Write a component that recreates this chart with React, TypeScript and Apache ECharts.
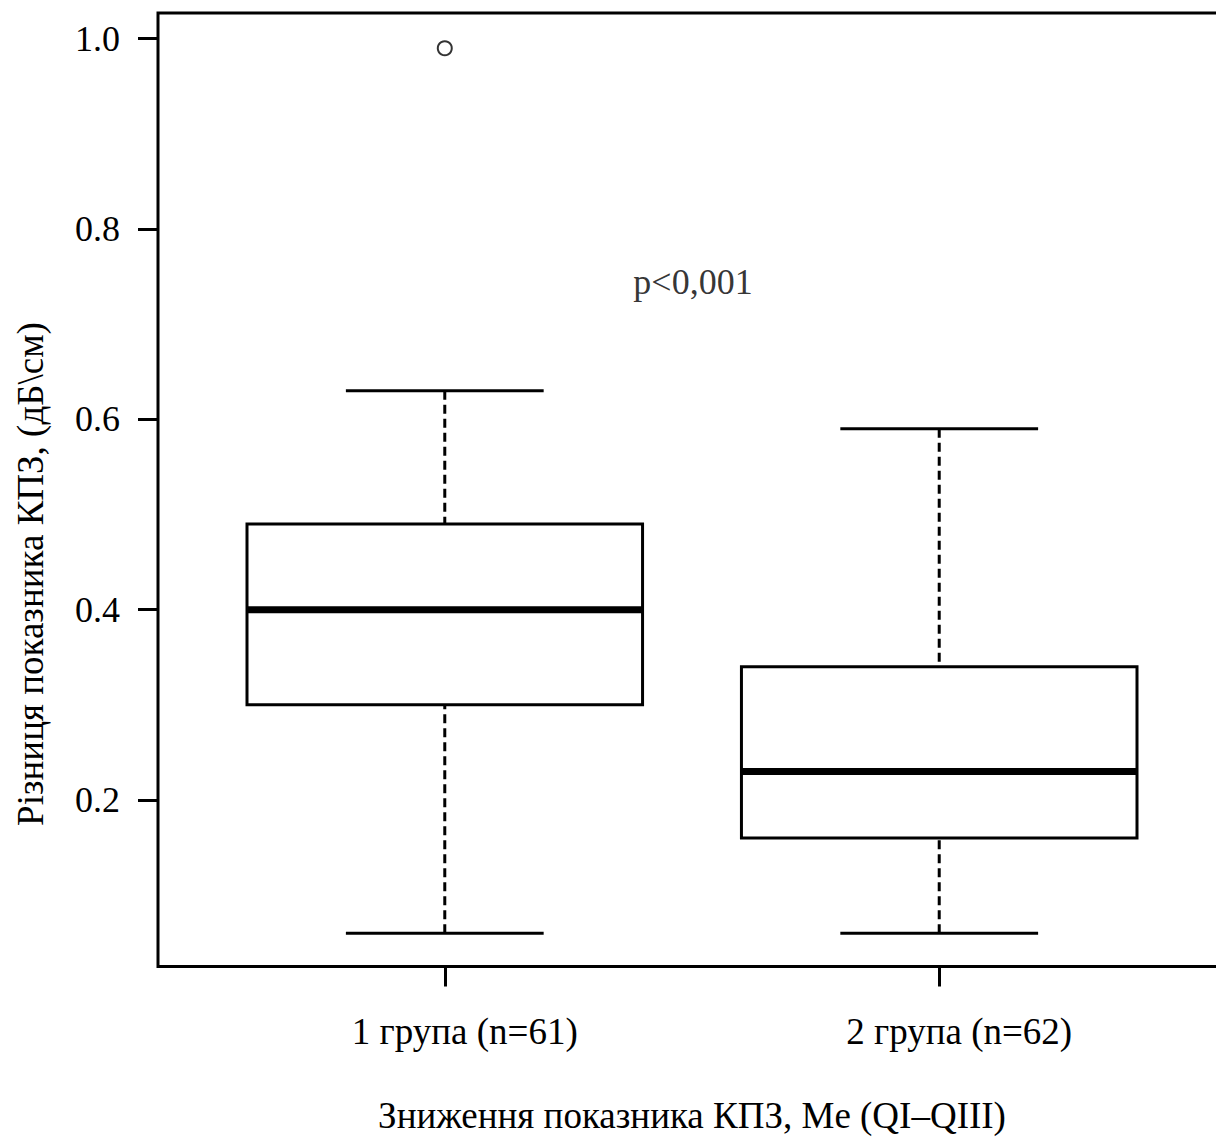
import React, { useEffect, useRef } from "react";
import * as echarts from "echarts";

const groups = ["1 група (n=61)", "2 група (n=62)"];
const groupX = [1, 2];
const lowWhisker = [0.06, 0.06];
const q1 = [0.3, 0.16];
const median = [0.4, 0.23];
const q3 = [0.49, 0.34];
const highWhisker = [0.63, 0.59];
const outliers = [[1, 0.99]];
const yTicks = [0.2, 0.4, 0.6, 0.8, 1.0];
const pText = "p<0,001";
const pPos = [1.502, 0.744];
const xTitle = "Зниження показника КПЗ, Me (QI–QIII)";
const yTitle = "Різниця показника КПЗ, (дБ\\см)";

const FONT = "'Liberation Serif', 'Times New Roman', serif";

export default function App() {
  const ref = useRef<HTMLDivElement>(null);
  useEffect(() => {
    if (!ref.current) return;
    const chart = echarts.init(ref.current, null, { renderer: "svg" });
    const boxData = groupX.map((x, i) => [x, lowWhisker[i], q1[i], median[i], q3[i], highWhisker[i]]);
    chart.setOption({
      animation: false,
      backgroundColor: "#fff",
      grid: {
        left: 158,
        top: 13,
        width: 1068,
        height: 953.5,
        show: true,
        borderColor: "#000",
        borderWidth: 3,
        backgroundColor: "transparent",
        containLabel: false,
        outerBoundsMode: "none",
      },
      xAxis: {
        type: "value",
        min: 0.42,
        max: 2.58,
        splitLine: { show: false },
        axisLine: { show: false },
        axisTick: {
          show: true,
          customValues: groupX,
          length: 20,
          lineStyle: { color: "#000", width: 3 },
        },
        axisLabel: {
          customValues: groupX,
          formatter: (v: number) => groups[Math.round(v) - 1] ?? "",
          margin: 46,
          padding: [0, 0, 0, 40],
          color: "#000",
          fontFamily: FONT,
          fontSize: 37,
        },
        name: xTitle,
        nameLocation: "middle",
        nameGap: 130,
        nameTextStyle: { color: "#000", fontFamily: FONT, fontSize: 37 },
      },
      yAxis: {
        type: "value",
        min: 0.025,
        max: 1.027,
        splitLine: { show: false },
        axisLine: { show: false },
        axisTick: {
          show: true,
          customValues: yTicks,
          length: 20,
          lineStyle: { color: "#000", width: 3 },
        },
        axisLabel: {
          customValues: yTicks,
          formatter: (v: number) => v.toFixed(1),
          margin: 38,
          color: "#000",
          fontFamily: FONT,
          fontSize: 36,
        },
      },
      graphic: [
        {
          type: "text",
          x: 30,
          y: 574,
          rotation: Math.PI / 2,
          style: {
            text: yTitle,
            fill: "#000",
            font: `37px ${FONT}`,
            textAlign: "center",
            textVerticalAlign: "middle",
          },
        },
      ],
      series: [
        {
          type: "custom",
          data: boxData,
          renderItem: (params: any, api: any) => {
            const x = api.value(0);
            const lo = api.coord([x, api.value(1)]);
            const b1 = api.coord([x - 0.4, api.value(2)]);
            const md = api.coord([x, api.value(3)]);
            const b3 = api.coord([x + 0.4, api.value(4)]);
            const hi = api.coord([x, api.value(5)]);
            const capL = api.coord([x - 0.2, 0])[0];
            const capR = api.coord([x + 0.2, 0])[0];
            const boxL = b1[0];
            const boxR = b3[0];
            const dash = { stroke: "#000", lineWidth: 3, lineDash: [9, 5], fill: null };
            const solid = { stroke: "#000", lineWidth: 3, fill: null };
            return {
              type: "group",
              children: [
                { type: "line", shape: { x1: lo[0], y1: lo[1], x2: lo[0], y2: b1[1] }, style: dash },
                { type: "line", shape: { x1: hi[0], y1: hi[1], x2: hi[0], y2: b3[1] }, style: dash },
                { type: "line", shape: { x1: capL, y1: lo[1], x2: capR, y2: lo[1] }, style: solid },
                { type: "line", shape: { x1: capL, y1: hi[1], x2: capR, y2: hi[1] }, style: solid },
                {
                  type: "rect",
                  shape: { x: boxL, y: b3[1], width: boxR - boxL, height: b1[1] - b3[1] },
                  style: { stroke: "#000", lineWidth: 3, fill: "#fff" },
                },
                { type: "line", shape: { x1: boxL, y1: md[1], x2: boxR, y2: md[1] }, style: { stroke: "#000", lineWidth: 7 } },
              ],
            };
          },
        },
        {
          type: "scatter",
          data: outliers,
          symbol: "circle",
          symbolSize: 14,
          itemStyle: { color: "#fff", borderColor: "#000", borderWidth: 2 },
        },
        {
          type: "scatter",
          data: [pPos],
          symbolSize: 0,
          silent: true,
          label: {
            show: true,
            position: "inside",
            formatter: () => pText,
            color: "#000",
            fontFamily: FONT,
            fontSize: 36,
          },
        },
      ],
    });
    return () => chart.dispose();
  }, []);
  return (
    <div
      ref={ref}
      style={{ position: "absolute", left: 0, top: 0, width: 1216, height: 1138, background: "#fff" }}
    />
  );
}
